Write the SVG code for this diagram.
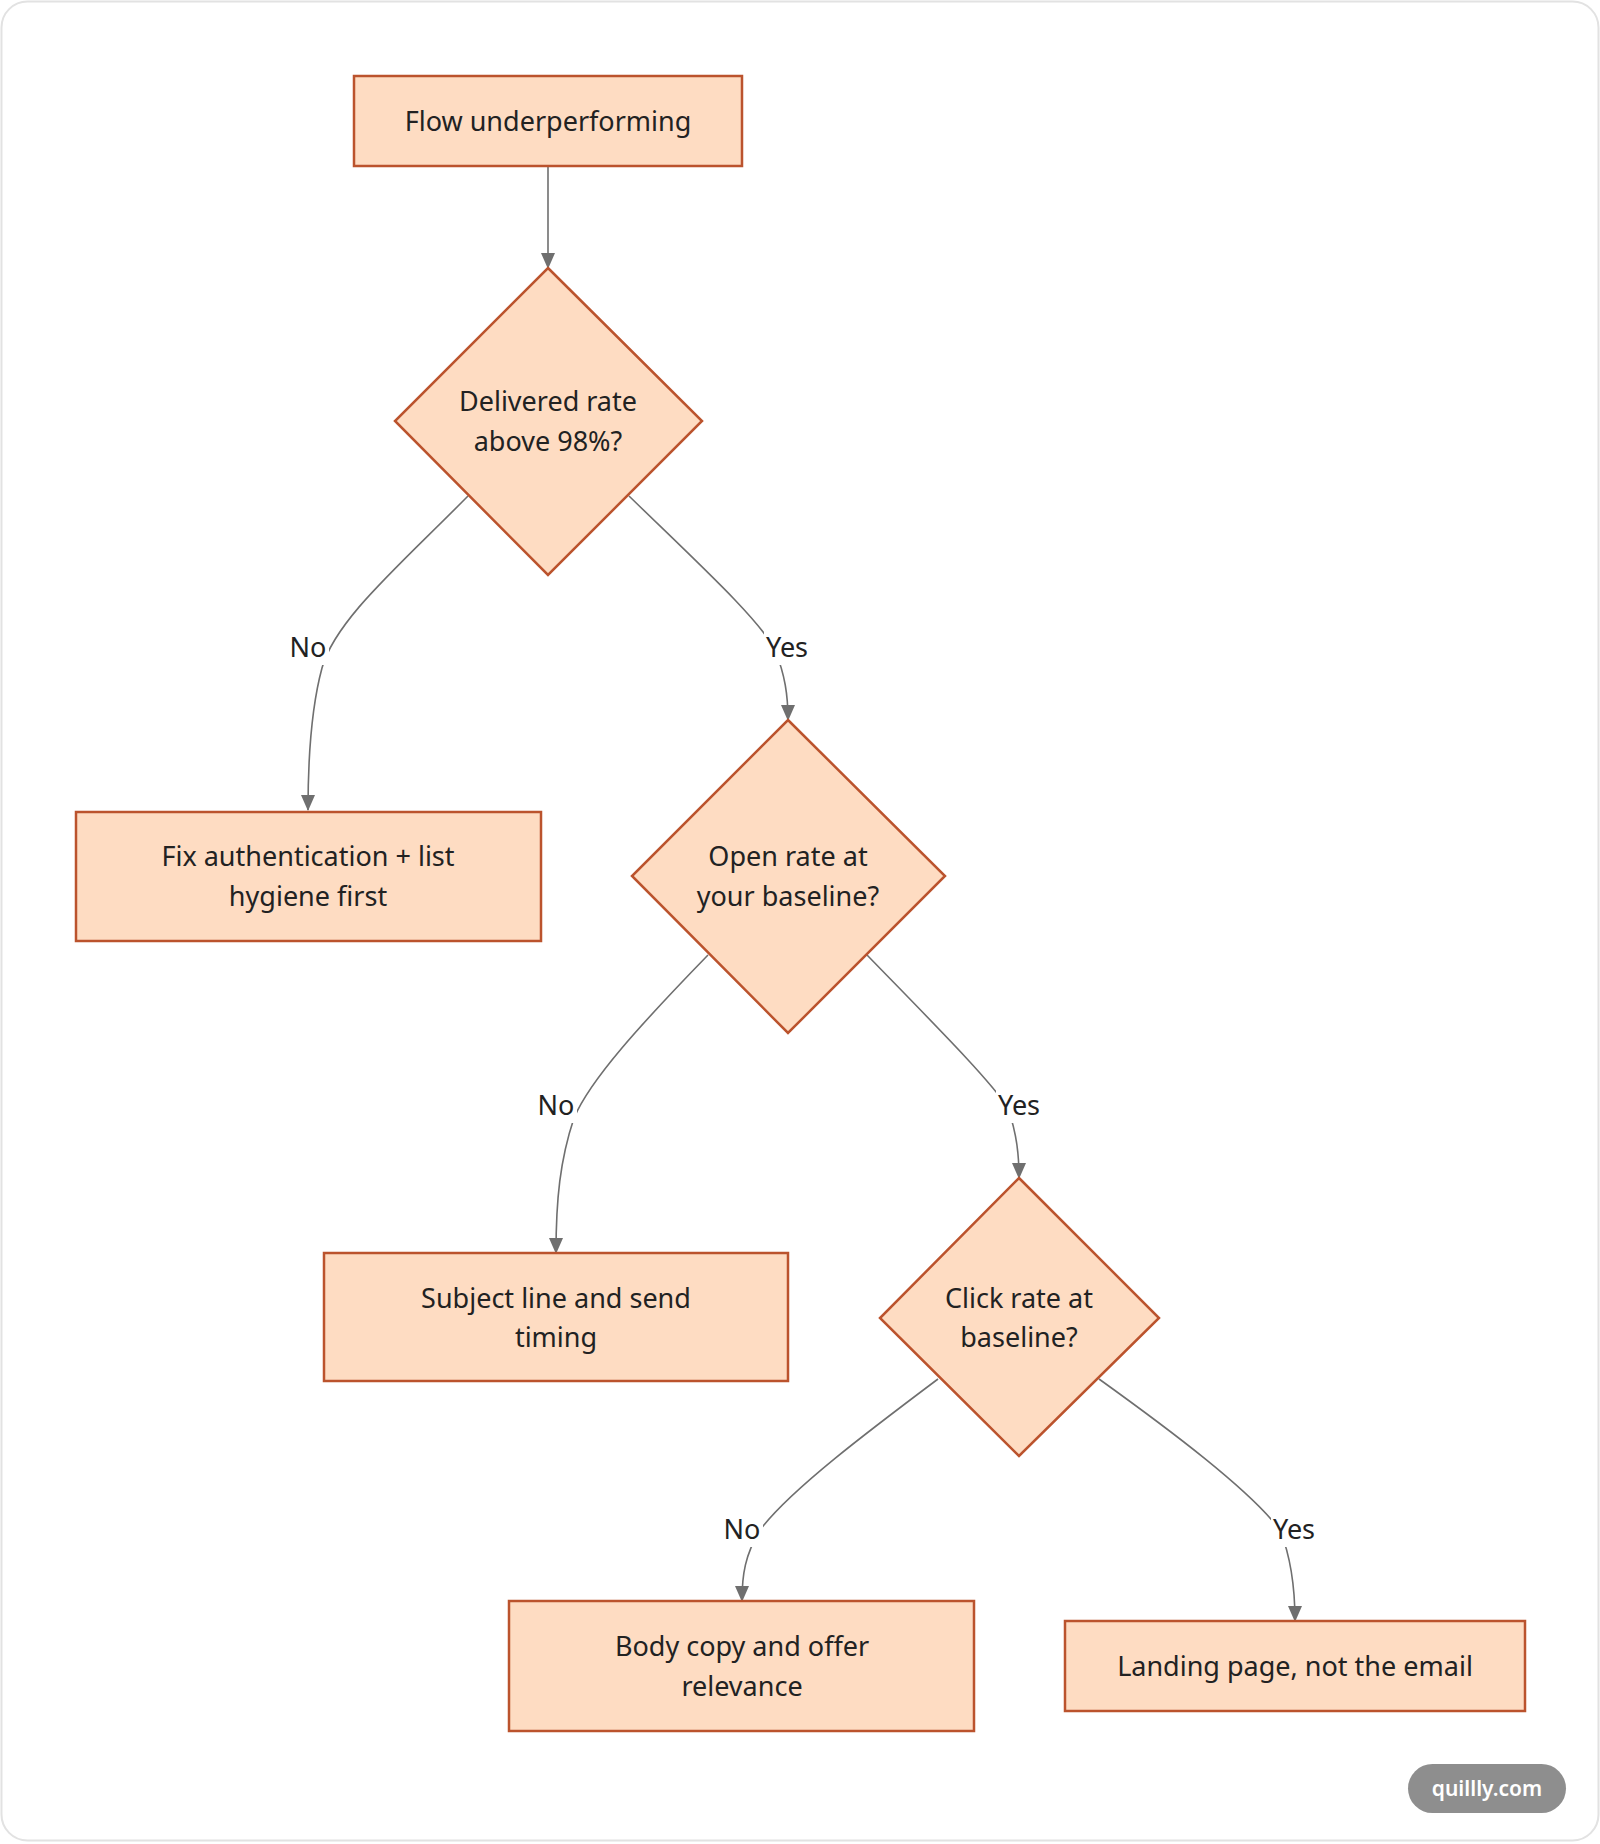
<svg xmlns="http://www.w3.org/2000/svg" width="1600" height="1844" viewBox="0 0 1600 1844">
<defs>
<style>
.node{fill:#fedcc2;stroke:#bb532d;stroke-width:2.5}
.t{font-family:"Noto Sans","Open Sans","DejaVu Sans",sans-serif;font-size:27px;fill:#222;text-anchor:middle;dominant-baseline:central}
.edge{fill:none;stroke:#6f6f6f;stroke-width:1.6}
.lbg{fill:#ffffff}
</style>
<marker id="a" markerUnits="userSpaceOnUse" markerWidth="16" markerHeight="14" refX="15" refY="7" orient="auto" viewBox="0 0 16 14">
<path d="M0,0 L16,7 L0,14 Z" fill="#6f6f6f"/>
</marker>
</defs>
<rect x="1.5" y="1.5" width="1597" height="1839" rx="26" fill="#ffffff" stroke="#e2e2e2" stroke-width="2"/>

<g id="connectors">
<path class="edge" d="M548,167 L548,268" marker-end="url(#a)"/>
<path class="edge" d="M468,496 C400,565 335,620 322,668 C312,705 308,750 308,810" marker-end="url(#a)"/>
<path class="edge" d="M629,496 C700,565 760,620 775,650 C785,675 788,695 788,720" marker-end="url(#a)"/>
<path class="edge" d="M708,955 C640,1025 590,1080 574,1118 C560,1160 556,1200 556,1253" marker-end="url(#a)"/>
<path class="edge" d="M867,955 C935,1025 990,1080 1008,1108 C1017,1135 1019,1155 1019,1178" marker-end="url(#a)"/>
<path class="edge" d="M938,1379 C870,1430 790,1490 760,1530 C745,1555 742,1575 742,1601" marker-end="url(#a)"/>
<path class="edge" d="M1099,1379 C1170,1430 1250,1490 1280,1530 C1292,1560 1295,1590 1295,1621" marker-end="url(#a)"/>
<g id="edge-labels">
<rect class="lbg" x="287" y="631" width="42" height="34"/><text class="t" x="308" y="646">No</text>
<rect class="lbg" x="764" y="631" width="46" height="34"/><text class="t" x="787" y="646">Yes</text>
<rect class="lbg" x="535" y="1089" width="42" height="34"/><text class="t" x="556" y="1104">No</text>
<rect class="lbg" x="996" y="1089" width="46" height="34"/><text class="t" x="1019" y="1104">Yes</text>
<rect class="lbg" x="721" y="1513" width="42" height="34"/><text class="t" x="742" y="1528">No</text>
<rect class="lbg" x="1271" y="1513" width="46" height="34"/><text class="t" x="1294" y="1528">Yes</text>
</g>
</g>

<g id="n-flow">
<rect class="node" x="354" y="76" width="388" height="90"/>
<text class="t" x="548" y="120">Flow underperforming</text>
</g>
<g id="n-delivered">
<polygon class="node" points="548,268 702,421 548,575 395,421"/>
<text class="t" x="548" y="400">Delivered rate</text>
<text class="t" x="548" y="440">above 98%?</text>
</g>
<g id="n-fix">
<rect class="node" x="76" y="812" width="465" height="129"/>
<text class="t" x="308" y="855">Fix authentication + list</text>
<text class="t" x="308" y="895">hygiene first</text>
</g>
<g id="n-open">
<polygon class="node" points="788,720 945,876 788,1033 632,876"/>
<text class="t" x="788" y="855">Open rate at</text>
<text class="t" x="788" y="895">your baseline?</text>
</g>
<g id="n-subject">
<rect class="node" x="324" y="1253" width="464" height="128"/>
<text class="t" x="556" y="1297">Subject line and send</text>
<text class="t" x="556" y="1336">timing</text>
</g>
<g id="n-click">
<polygon class="node" points="1019,1178 1159,1318 1019,1456 880,1318"/>
<text class="t" x="1019" y="1297">Click rate at</text>
<text class="t" x="1019" y="1336">baseline?</text>
</g>
<g id="n-body">
<rect class="node" x="509" y="1601" width="465" height="130"/>
<text class="t" x="742" y="1645">Body copy and offer</text>
<text class="t" x="742" y="1685">relevance</text>
</g>
<g id="n-landing">
<rect class="node" x="1065" y="1621" width="460" height="90"/>
<text class="t" x="1295" y="1665">Landing page, not the email</text>
</g>

<g id="watermark">
<rect x="1408" y="1764" width="158" height="49" rx="24.5" fill="#8e8e8e"/>
<text x="1487" y="1788" font-family="Noto Sans,Open Sans,sans-serif" font-size="21" font-weight="600" fill="#ffffff" text-anchor="middle" dominant-baseline="central">quillly.com</text>
</g>
</svg>
